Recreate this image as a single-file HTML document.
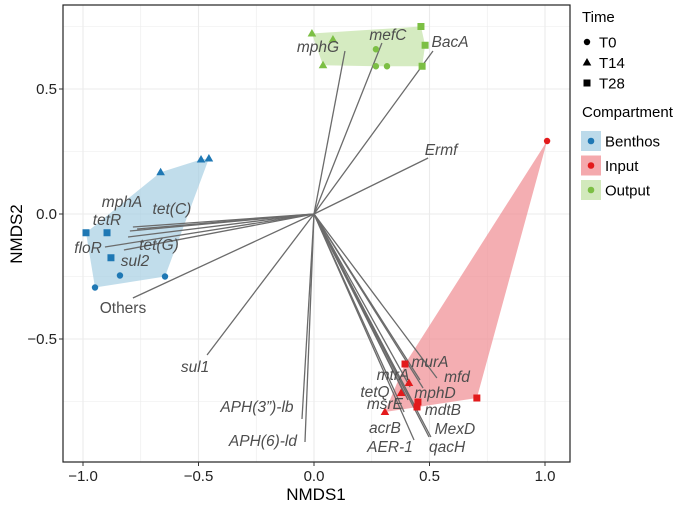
<!DOCTYPE html>
<html><head><meta charset="utf-8"><style>
body{margin:0;background:#fff;}
svg{display:block;font-family:"Liberation Sans",Arial,sans-serif;}
</style></head><body>
<svg id="chart" width="685" height="513"></svg>
<script>
const xTicks=[-1.0,-0.5,0.0,0.5,1.0];
const yTicks=[-0.5,0.0,0.5];
const xTickLabels=["−1.0","−0.5","0.0","0.5","1.0"];
const yTickLabels=["−0.5","0.0","0.5"];
const compartments=["Benthos","Input","Output"];
const benthosX=[-0.664,-0.489,-0.455,-0.987,-0.896,-0.879,-0.948,-0.840,-0.645];
const benthosY=[0.167,0.218,0.222,-0.075,-0.075,-0.175,-0.294,-0.246,-0.250];
const benthosT=["T14","T14","T14","T28","T28","T28","T0","T0","T0"];
const inputX=[0.394,0.450,0.705,0.446,0.411,0.377,0.307,1.009];
const inputY=[-0.600,-0.752,-0.736,-0.772,-0.676,-0.716,-0.792,0.292];
const inputT=["T28","T28","T28","T28","T14","T14","T14","T0"];
const outputX=[0.463,0.481,0.468,-0.009,0.082,0.039,0.268,0.268,0.316];
const outputY=[0.750,0.675,0.591,0.722,0.698,0.595,0.659,0.591,0.591];
const outputT=["T28","T28","T28","T14","T14","T14","T0","T0","T0"];
const genes=["mphA","tetR","tet(C)","floR","tet(G)","sul2","Others","mphG","mefC","BacA","Ermf","sul1","APH(3”)-lb","APH(6)-ld","murA","mfd","mphD","mtrA","tetQ","msrE","mdtB","acrB","AER-1","MexD","qacH"];
const vecX=[-0.784,-0.797,-0.766,-0.905,-0.823,-0.805,-0.784,0.134,0.294,0.515,0.494,-0.463,-0.052,-0.039,0.459,0.532,0.472,0.416,0.394,0.407,0.446,0.390,0.433,0.498,0.506];
const vecY=[-0.052,-0.068,-0.060,-0.132,-0.144,-0.092,-0.336,0.652,0.684,0.652,0.224,-0.564,-0.820,-0.912,-0.664,-0.656,-0.696,-0.692,-0.724,-0.744,-0.784,-0.792,-0.904,-0.892,-0.892];
const labX=[-0.831,-0.896,-0.615,-0.978,-0.671,-0.775,-0.827,0.017,0.320,0.589,0.550,-0.515,-0.247,-0.221,0.502,0.619,0.524,0.342,0.264,0.307,0.558,0.307,0.329,0.610,0.576];
const labY=[0.048,-0.024,0.020,-0.136,-0.124,-0.188,-0.376,0.668,0.716,0.688,0.256,-0.612,-0.772,-0.908,-0.592,-0.652,-0.716,-0.644,-0.712,-0.760,-0.784,-0.856,-0.932,-0.860,-0.932];

const NS="http://www.w3.org/2000/svg";
const svg=document.getElementById('chart');
const L=63,R=570,T=5,B=462;
const sx=v=>314+231*v, sy=v=>214-250*v;
function mk(tag,attrs,parent){const e=document.createElementNS(NS,tag);for(const k in attrs)e.setAttribute(k,attrs[k]);(parent||svg).appendChild(e);return e;}
const grid=mk('g',{});


for(let v=-1.25;v<=1.1;v+=0.25){const x=sx(v);if(x>L&&x<R)mk('line',{x1:x,x2:x,y1:T,y2:B,stroke:'#ebebeb','stroke-width':(Math.abs(v*2-Math.round(v*2))<1e-6)?1.1:0.6},grid);}
for(let v=-1;v<=0.8;v+=0.25){const y=sy(v);if(y>T&&y<B)mk('line',{x1:L,x2:R,y1:y,y2:y,stroke:'#ebebeb','stroke-width':(Math.abs(v*2-Math.round(v*2))<1e-6)?1.1:0.6},grid);}
const colors={Benthos:'#1f78b4',Input:'#e31a1c',Output:'#7cbf44'};
const fills={Benthos:'#a6cee3',Input:'#f08c92',Output:'#c3e2a6'};
const sets={Benthos:[benthosX,benthosY,benthosT],Input:[inputX,inputY,inputT],Output:[outputX,outputY,outputT]};
function hull(pts){pts=pts.slice().sort((a,b)=>a[0]-b[0]||a[1]-b[1]);const cr=(o,a,b)=>(a[0]-o[0])*(b[1]-o[1])-(a[1]-o[1])*(b[0]-o[0]);const lo=[],up=[];for(const p of pts){while(lo.length>=2&&cr(lo[lo.length-2],lo[lo.length-1],p)<=0)lo.pop();lo.push(p);}for(const p of pts.slice().reverse()){while(up.length>=2&&cr(up[up.length-2],up[up.length-1],p)<=0)up.pop();up.push(p);}return lo.slice(0,-1).concat(up.slice(0,-1));}
compartments.forEach(c=>{const [X,Y]=sets[c];const pts=X.map((x,i)=>[sx(x),sy(Y[i])]);const h=hull(pts);
const p=mk('polygon',{points:h.map(q=>q.join(',')).join(' '),fill:fills[c],'fill-opacity':0.7});

});
genes.forEach((g,i)=>{const l=mk('line',{x1:sx(0),y1:sy(0),x2:sx(vecX[i]),y2:sy(vecY[i]),stroke:'#6b6b6b','stroke-width':1.3});

});
function shape(t,x,y,col,parent){if(t==='T0')return mk('circle',{cx:x,cy:y,r:3.2,fill:col},parent);if(t==='T14')return mk('polygon',{points:`${x},${y-4.5} ${x-4.3},${y+3} ${x+4.3},${y+3}`,fill:col},parent);return mk('rect',{x:x-3.5,y:y-3.5,width:7,height:7,fill:col},parent);}
compartments.forEach(c=>{const [X,Y,Tm]=sets[c];X.forEach((x,i)=>{const e=shape(Tm[i],sx(x),sy(Y[i]),colors[c]);

});});
genes.forEach((g,i)=>{const t=mk('text',{x:sx(labX[i]),y:sy(labY[i])+5,'text-anchor':'middle','font-size':15.5,fill:'#4d4d4d','font-style':g==='Others'?'normal':'italic'});t.textContent=g;

});
const br=mk('rect',{x:L,y:T,width:R-L,height:B-T,fill:'none',stroke:'#222','stroke-width':1.2});


xTicks.forEach((v,i)=>{mk('line',{x1:sx(v),x2:sx(v),y1:B,y2:B+4,stroke:'#333'});const t=mk('text',{x:sx(v),y:B+19,'text-anchor':'middle','font-size':15,fill:'#222'});t.textContent=xTickLabels[i];

});
yTicks.forEach((v,i)=>{mk('line',{x1:L-4,x2:L,y1:sy(v),y2:sy(v),stroke:'#333'});const t=mk('text',{x:L-6,y:sy(v)+5,'text-anchor':'end','font-size':15,fill:'#222'});t.textContent=yTickLabels[i];

});
let t=mk('text',{x:316,y:500,'text-anchor':'middle','font-size':17,fill:'#000'});t.textContent='NMDS1';


t=mk('text',{x:0,y:0,'text-anchor':'middle','font-size':17,fill:'#000',transform:'translate(22,234) rotate(-90)'});t.textContent='NMDS2';


const lg=mk('g',{});


t=mk('text',{x:582,y:22,'font-size':15,fill:'#000'},lg);t.textContent='Time';
["T0","T14","T28"].forEach((k,i)=>{const y=42+20.5*i;shape(k,587,y,'#000',lg);const e=mk('text',{x:599,y:y+5.5,'font-size':15,fill:'#000'},lg);e.textContent=k;

});
t=mk('text',{x:582,y:117,'font-size':15,fill:'#000'},lg);t.textContent='Compartment';
compartments.forEach((c,i)=>{const y=141+24.5*i;mk('rect',{x:581,y:y-10,width:20,height:20,fill:fills[c],'fill-opacity':0.75},lg);mk('circle',{cx:591,cy:y,r:3.3,fill:colors[c]},lg);const e=mk('text',{x:605,y:y+5.5,'font-size':15,fill:'#000'},lg);e.textContent=c;

});
</script>
</body></html>
